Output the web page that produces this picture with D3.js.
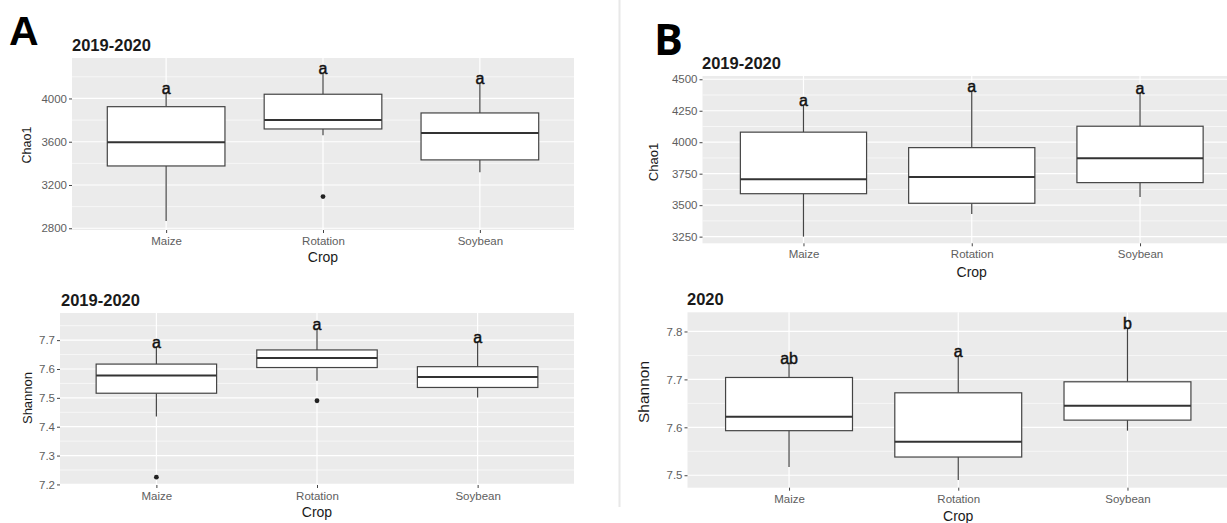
<!DOCTYPE html>
<html>
<head>
<meta charset="utf-8">
<script src="https://cdn.jsdelivr.net/npm/d3@7/dist/d3.min.js"></script>
<style>
  html, body { margin: 0; padding: 0; background: #fff; }
  svg { display: block; font-family: "Liberation Sans", Arial, sans-serif; }
</style>
</head>
<body>
<svg id="chart" width="1227" height="523"></svg>
<script>
// ---------------- DATA ----------------
const categories = ["Maize", "Rotation", "Soybean"];

// Panel A – Chao1 (2019-2020)
const aChaoLow      = [2868, 3660, 3318];
const aChaoQ1       = [3376, 3718, 3432];
const aChaoMedian   = [3595, 3801, 3681];
const aChaoQ3       = [3924, 4039, 3866];
const aChaoHigh     = [4055, 4231, 4139];
const aChaoOutliers = [[], [3093], []];
const aChaoLetters  = ["a", "a", "a"];
const aChaoTicks    = [2800, 3200, 3600, 4000];

// Panel A – Shannon (2019-2020)
const aShanLow      = [7.435, 7.559, 7.501];
const aShanQ1       = [7.516, 7.605, 7.536];
const aShanMedian   = [7.577, 7.638, 7.572];
const aShanQ3       = [7.617, 7.666, 7.608];
const aShanHigh     = [7.677, 7.740, 7.695];
const aShanOutliers = [[7.225], [7.49], []];
const aShanLetters  = ["a", "a", "a"];
const aShanTicks    = [7.2, 7.3, 7.4, 7.5, 7.6, 7.7];

// Panel B – Chao1 (2019-2020)
const bChaoLow      = [3250, 3430, 3565];
const bChaoQ1       = [3591, 3515, 3679];
const bChaoMedian   = [3706, 3724, 3872];
const bChaoQ3       = [4080, 3957, 4127];
const bChaoHigh     = [4292, 4406, 4392];
const bChaoOutliers = [[], [], []];
const bChaoLetters  = ["a", "a", "a"];
const bChaoTicks    = [3250, 3500, 3750, 4000, 4250, 4500];

// Panel B – Shannon (2020)
const bShanLow      = [7.517, 7.490, 7.593];
const bShanQ1       = [7.593, 7.538, 7.615];
const bShanMedian   = [7.622, 7.570, 7.645];
const bShanQ3       = [7.704, 7.672, 7.695];
const bShanHigh     = [7.735, 7.749, 7.807];
const bShanOutliers = [[], [], []];
const bShanLetters  = ["ab", "a", "b"];
const bShanTicks    = [7.5, 7.6, 7.7, 7.8];

// ---------------- DRAW ----------------
const svg = d3.select("#chart");

function rows(low, q1, med, q3, high, outs, letters) {
  return categories.map((c, i) => ({
    cat: c, low: low[i], q1: q1[i], med: med[i], q3: q3[i], high: high[i],
    outs: outs[i], letter: letters[i]
  }));
}

function drawPanel(cfg) {
  const g = svg.append("g");
  const x = d3.scalePoint().domain(categories).range([cfg.x0, cfg.x1]).padding(0.6);
  const y = d3.scaleLinear().domain(cfg.domain).range([cfg.yBot, cfg.yTop]);
  const step = x.step();
  const bw = step * 0.75;

  g.append("rect").attr("x", cfg.x0).attr("y", cfg.yTop)
    .attr("width", cfg.x1 - cfg.x0).attr("height", cfg.yBot - cfg.yTop)
    .attr("fill", "#EBEBEB");

  const t = cfg.ticks;
  const d = t[1] - t[0];
  const minor = [];
  for (let i = -1; i < t.length + 1; i++) {
    const v = t[0] + d * (i + 0.5);
    if (v > Math.min(...cfg.domain) && v < Math.max(...cfg.domain)) minor.push(v);
  }
  g.selectAll(".minor").data(minor).join("line")
    .attr("x1", cfg.x0).attr("x2", cfg.x1)
    .attr("y1", v => y(v)).attr("y2", v => y(v))
    .attr("stroke", "#fff").attr("stroke-width", 0.6);
  g.selectAll(".major").data(t).join("line")
    .attr("x1", cfg.x0).attr("x2", cfg.x1)
    .attr("y1", v => y(v)).attr("y2", v => y(v))
    .attr("stroke", "#fff").attr("stroke-width", 1.2);
  g.selectAll(".vmajor").data(categories).join("line")
    .attr("x1", c => x(c)).attr("x2", c => x(c))
    .attr("y1", cfg.yTop).attr("y2", cfg.yBot)
    .attr("stroke", "#fff").attr("stroke-width", 1.2);

  const yAxis = d3.axisLeft(y).tickValues(t).tickSize(3).tickPadding(2)
    .tickFormat(cfg.fmt);
  const ya = g.append("g").attr("transform", `translate(${cfg.x0},0)`).call(yAxis);
  ya.select(".domain").remove();
  ya.selectAll(".tick line").attr("stroke", "#444");
  ya.selectAll(".tick text").attr("fill", "#5e5e5e").attr("font-size", 11.5)
    .attr("font-family", "Liberation Sans, Arial, sans-serif");

  const xAxis = d3.axisBottom(x).tickSize(3).tickPadding(4);
  const xa = g.append("g").attr("transform", `translate(0,${cfg.yBot})`).call(xAxis);
  xa.select(".domain").remove();
  xa.selectAll(".tick line").attr("stroke", "#444");
  xa.selectAll(".tick text").attr("fill", "#5e5e5e").attr("font-size", 11.5)
    .attr("font-family", "Liberation Sans, Arial, sans-serif");

  const data = rows(...cfg.data);
  const b = g.selectAll(".box").data(data).join("g");
  b.append("line")
    .attr("x1", r => x(r.cat)).attr("x2", r => x(r.cat))
    .attr("y1", r => y(r.high)).attr("y2", r => y(r.q3))
    .attr("stroke", "#444").attr("stroke-width", 1.2);
  b.append("line")
    .attr("x1", r => x(r.cat)).attr("x2", r => x(r.cat))
    .attr("y1", r => y(r.q1)).attr("y2", r => y(r.low))
    .attr("stroke", "#444").attr("stroke-width", 1.2);
  b.append("rect")
    .attr("x", r => x(r.cat) - bw / 2).attr("width", bw)
    .attr("y", r => y(r.q3)).attr("height", r => y(r.q1) - y(r.q3))
    .attr("fill", "#fff").attr("stroke", "#444").attr("stroke-width", 1.2);
  b.append("line")
    .attr("x1", r => x(r.cat) - bw / 2).attr("x2", r => x(r.cat) + bw / 2)
    .attr("y1", r => y(r.med)).attr("y2", r => y(r.med))
    .attr("stroke", "#333").attr("stroke-width", 2);
  b.selectAll(".out").data(r => r.outs.map(v => ({ cat: r.cat, v }))).join("circle")
    .attr("cx", o => x(o.cat)).attr("cy", o => y(o.v)).attr("r", 2.4)
    .attr("fill", "#222");
  b.append("text")
    .attr("x", r => x(r.cat)).attr("y", r => y(r.high) + 1)
    .attr("text-anchor", "middle").attr("font-size", 16)
    .attr("fill", "#111").attr("stroke", "#111").attr("stroke-width", 0.45)
    .text(r => r.letter);

  g.append("text").attr("x", cfg.titleX).attr("y", cfg.titleY)
    .attr("font-size", 16.5).attr("font-weight", "bold").attr("fill", "#1a1a1a")
    .text(cfg.title);
  g.append("text")
    .attr("transform", `translate(${cfg.ylabX},${cfg.ylabY}) rotate(-90)`)
    .attr("text-anchor", "middle").attr("font-size", cfg.ylabSize)
    .attr("dominant-baseline", "central").attr("fill", "#1a1a1a")
    .text(cfg.ylab);
  g.append("text").attr("x", x("Rotation")).attr("y", cfg.cropY)
    .attr("text-anchor", "middle").attr("font-size", 14).attr("fill", "#1a1a1a")
    .text("Crop");
}

svg.append("line").attr("x1", 619.5).attr("x2", 619.5).attr("y1", 0).attr("y2", 507)
  .attr("stroke", "#e8e8e8").attr("stroke-width", 2);

svg.append("text").attr("x", 9).attr("y", 45).attr("font-size", 41)
  .attr("font-weight", "bold").attr("fill", "#000").text("A");
svg.append("text").attr("x", 654).attr("y", 55).attr("font-size", 43)
  .attr("font-weight", "bold").attr("fill", "#000")
  .attr("font-family", "Open Sans, Liberation Sans, sans-serif").text("B");

const fmt0 = d3.format("d");
const fmt1 = d3.format(".1f");

drawPanel({
  x0: 72, x1: 574, yTop: 58, yBot: 230, domain: [2784, 4374], ticks: aChaoTicks, fmt: fmt0,
  data: [aChaoLow, aChaoQ1, aChaoMedian, aChaoQ3, aChaoHigh, aChaoOutliers, aChaoLetters],
  title: "2019-2020", titleX: 72, titleY: 51, ylab: "Chao1", ylabX: 27, ylabY: 145, ylabSize: 12.5,
  cropY: 262
});
drawPanel({
  x0: 60, x1: 574, yTop: 313, yBot: 485, domain: [7.198, 7.794], ticks: aShanTicks, fmt: fmt1,
  data: [aShanLow, aShanQ1, aShanMedian, aShanQ3, aShanHigh, aShanOutliers, aShanLetters],
  title: "2019-2020", titleX: 61, titleY: 306, ylab: "Shannon", ylabX: 27, ylabY: 398, ylabSize: 13,
  cropY: 517
});
drawPanel({
  x0: 702.5, x1: 1241, yTop: 76, yBot: 243.3, domain: [3197, 4526], ticks: bChaoTicks, fmt: fmt0,
  data: [bChaoLow, bChaoQ1, bChaoMedian, bChaoQ3, bChaoHigh, bChaoOutliers, bChaoLetters],
  title: "2019-2020", titleX: 702, titleY: 68.5, ylab: "Chao1", ylabX: 653, ylabY: 162, ylabSize: 13,
  cropY: 276.5
});
drawPanel({
  x0: 687.5, x1: 1229, yTop: 312.3, yBot: 487.7, domain: [7.474, 7.840], ticks: bShanTicks, fmt: fmt1,
  data: [bShanLow, bShanQ1, bShanMedian, bShanQ3, bShanHigh, bShanOutliers, bShanLetters],
  title: "2020", titleX: 687, titleY: 305, ylab: "Shannon", ylabX: 643, ylabY: 392, ylabSize: 15.5,
  cropY: 520.5
});
</script>
</body>
</html>
